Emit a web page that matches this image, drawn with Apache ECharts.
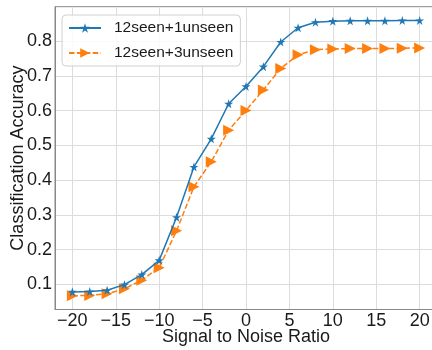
<!DOCTYPE html>
<html>
<head>
<meta charset="utf-8">
<script src="https://cdn.jsdelivr.net/npm/echarts@6/dist/echarts.min.js"></script>
<style>
  html, body { margin: 0; padding: 0; background: #fff; }
  #chart { width: 432px; height: 350px; }
</style>
</head>
<body>
<div id="chart"></div>
<script>
// Signal-to-noise ratios (dB) at which accuracy was measured
const snr = [-20, -18, -16, -14, -12, -10, -8, -6, -4, -2, 0, 2, 4, 6, 8, 10, 12, 14, 16, 18, 20];

// Classification accuracy per setting
const accOneUnseen = [0.078, 0.079, 0.083, 0.099, 0.128, 0.169, 0.293, 0.438, 0.519, 0.620, 0.670,
                      0.727, 0.798, 0.839, 0.855, 0.858, 0.859, 0.859, 0.859, 0.860, 0.860];
const accThreeUnseen = [0.067, 0.068, 0.073, 0.087, 0.112, 0.148, 0.254, 0.381, 0.453, 0.544, 0.601,
                        0.660, 0.722, 0.761, 0.776, 0.778, 0.779, 0.779, 0.779, 0.780, 0.781];

const seriesNames = ['12seen+1unseen', '12seen+3unseen'];

// Tick positions
const xTicks = [-20, -15, -10, -5, 0, 5, 10, 15, 20];
const yTicks = [0.1, 0.2, 0.3, 0.4, 0.5, 0.6, 0.7, 0.8];

const FONT = '"Liberation Sans", Arial, Helvetica, sans-serif';
const STAR = 'path://M50,0 L61.2,34.5 L97.6,34.5 L68.2,55.9 L79.4,90.5 L50,69.1 L20.6,90.5 L31.8,55.9 L2.4,34.5 L38.8,34.5 Z';
const RIGHT_TRI = 'path://M0,0 L10,5 L0,10 Z';

const pairs = (xs, ys) => xs.map((x, i) => [x, ys[i]]);

const chart = echarts.init(document.getElementById('chart'), null, { renderer: 'canvas' });

chart.setOption({
  animation: false,
  backgroundColor: '#ffffff',
  grid: {
    left: 55, top: 6.7, width: 382, height: 302.8,
    containLabel: false, outerBoundsMode: 'none',
    show: true, borderColor: '#888', borderWidth: 1, backgroundColor: 'transparent'
  },
  legend: {
    left: 62, top: 15,
    orient: 'vertical',
    data: seriesNames,
    itemWidth: 32, itemHeight: 12, itemGap: 9,
    padding: [5, 7, 5, 6],
    backgroundColor: 'rgba(255,255,255,0.85)',
    borderColor: '#d0d0d0', borderWidth: 1, borderRadius: 4,
    textStyle: { fontFamily: FONT, fontSize: 15.5, color: '#1a1a1a', padding: [0, 0, 0, 8] }
  },
  xAxis: {
    type: 'value',
    min: -22, max: 22,
    name: 'Signal to Noise Ratio',
    nameLocation: 'middle', nameGap: 19, nameMoveOverlap: false,
    nameTextStyle: { fontFamily: FONT, fontSize: 18, color: '#1a1a1a' },
    axisLine: { show: true, onZero: false, lineStyle: { color: '#888', width: 1 } },
    axisTick: { show: false, customValues: xTicks },
    axisLabel: {
      customValues: xTicks, margin: 3,
      fontFamily: FONT, fontSize: 18, color: '#1a1a1a',
      formatter: v => (v < 0 ? '\u2212' + Math.abs(v) : String(v))
    },
    splitLine: { show: true, lineStyle: { color: '#dcdcdc', width: 1 } }
  },
  yAxis: {
    type: 'value',
    min: 0.0274, max: 0.8997,
    name: 'Classification Accuracy',
    nameLocation: 'middle', nameGap: 28, nameRotate: 90, nameMoveOverlap: false,
    nameTextStyle: { fontFamily: FONT, fontSize: 18, color: '#1a1a1a' },
    axisLine: { show: true, onZero: false, lineStyle: { color: '#888', width: 1 } },
    axisTick: { show: false, customValues: yTicks },
    axisLabel: {
      customValues: yTicks, margin: 3,
      fontFamily: FONT, fontSize: 18, color: '#1a1a1a',
      formatter: v => v.toFixed(1)
    },
    splitLine: { show: true, lineStyle: { color: '#dcdcdc', width: 1 } }
  },
  series: [
    {
      name: seriesNames[0],
      type: 'line',
      data: pairs(snr, accOneUnseen),
      symbol: STAR, symbolSize: 9,
      showAllSymbol: true,
      color: '#1f77b4',
      lineStyle: { color: '#1f77b4', width: 1.5 },
      itemStyle: { color: '#1f77b4', borderWidth: 0 },
      z: 3
    },
    {
      name: seriesNames[1],
      type: 'line',
      data: pairs(snr, accThreeUnseen),
      symbol: RIGHT_TRI, symbolSize: 11,
      showAllSymbol: true,
      color: '#ff7f0e',
      lineStyle: { color: '#ff7f0e', width: 1.5, type: [5.5, 2.4] },
      itemStyle: { color: '#ff7f0e', borderWidth: 0 },
      z: 2
    }
  ]
});
</script>
</body>
</html>
